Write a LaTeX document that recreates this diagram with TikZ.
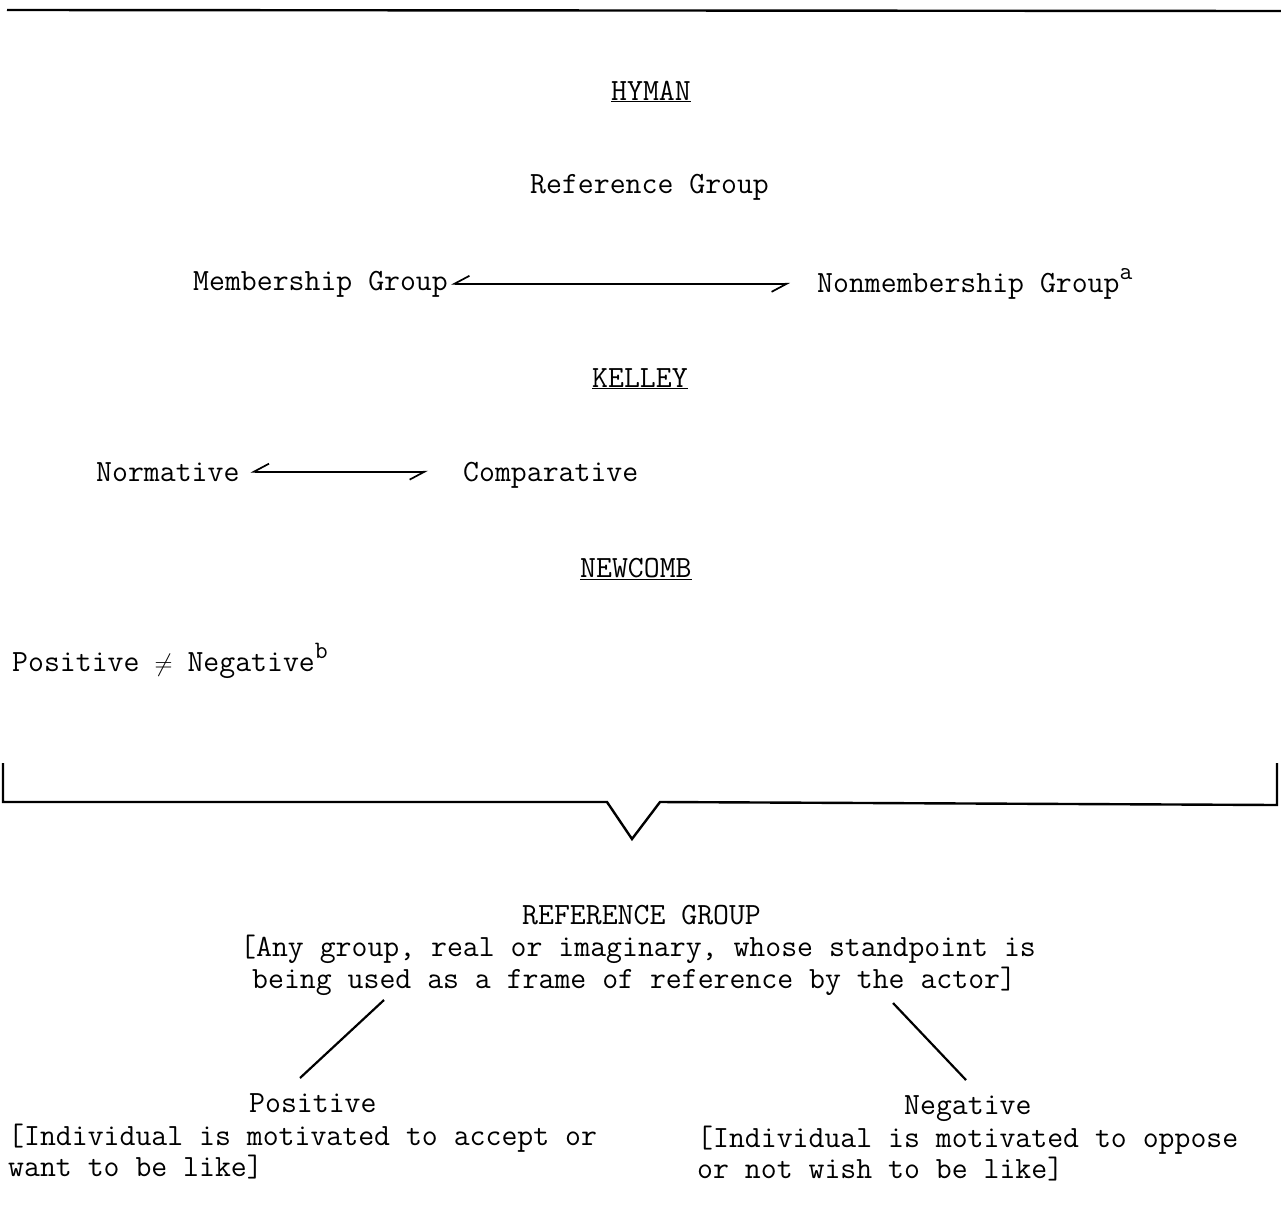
\documentclass[tikz,border=0pt]{standalone}
\usetikzlibrary{arrows.meta}
\newcommand{\supr}[1]{\raisebox{0.42em}{\fontsize{25pt}{25pt}\selectfont #1}}
\begin{document}
\begin{tikzpicture}[x=1pt,y=-1pt,
  txt/.style={inner sep=0pt,anchor=base west,font=\fontsize{30.9pt}{32pt}\selectfont\ttfamily},
  harp/.style={line width=1.7pt,{Straight Barb[harpoon,swap,length=15pt,width=16pt,line width=1.7pt]}-{Straight Barb[harpoon,swap,length=15pt,width=16pt,line width=1.7pt]}},
  rule/.style={line width=2.4pt},
  stroke/.style={line width=2.2pt}]
\path[use as bounding box] (0,0) rectangle (1281,1210);

% top rule
\coordinate (r1) at (7,10);
\coordinate (r2) at (1281,11);
\draw[rule] (r1) -- (r2);

% HYMAN
\node[txt] (hyman) at (611,100) {\underline{HYMAN}};
\node[txt] (refg) at (530,193) {Reference Group};
\node[txt] (memb) at (193,290) {Membership Group};
\node[txt] (nonm) at (817,292) {Nonmembership Group\supr{a}};
\draw[harp] ([xshift=3pt]memb.east) -- ([xshift=-27pt]memb.east -| nonm.west);

% KELLEY
\node[txt] (kelley) at (592,387) {\underline{KELLEY}};
\node[txt] (norm) at (96,481) {Normative};
\node[txt] (comp) at (463,481) {Comparative};
\draw[harp] ([xshift=11pt]norm.east) -- ([xshift=-35pt]norm.east -| comp.west);

% NEWCOMB
\node[txt] (newcomb) at (580,577) {\underline{NEWCOMB}};
\node[txt] (posneg) at (12,671) {Positive \makebox[0.525em]{$\neq$} Negative\supr{b}};

% brace
\coordinate (b1) at (3,763);
\coordinate (b2) at (3,802);
\coordinate (b3) at (607,802);
\coordinate (b4) at (632,839);
\coordinate (b5) at (660,802);
\coordinate (b6) at (1277,805);
\coordinate (b7) at (1277,763);
\draw[rule,line join=miter] (b1) -- (b2) -- (b3) -- (b4) -- (b5) -- (b6) -- (b7);

% result
\node[txt] (rg) at (522,924) {REFERENCE GROUP};
\node[txt] (def1) at (240,956) {[Any group, real or imaginary, whose standpoint is};
\node[txt] (def2) at (252,988) {being used as a frame of reference by the actor]};

\node[txt] (pos) at (249,1112) {Positive};
\node[txt] (posa) at (8,1145) {[Individual is motivated to accept or};
\node[txt] (posb) at (8,1176) {want to be like]};

\node[txt] (neg) at (904,1114) {Negative};
\node[txt] (nega) at (697,1147) {[Individual is motivated to oppose};
\node[txt] (negb) at (697,1178) {or not wish to be like]};

\coordinate (pl1) at (384,1000);
\coordinate (pl2) at (300,1078);
\coordinate (nl1) at (893,1003);
\coordinate (nl2) at (966,1080);
\draw[stroke] (pl1) -- (pl2);
\draw[stroke] (nl1) -- (nl2);
\end{tikzpicture}
\end{document}
